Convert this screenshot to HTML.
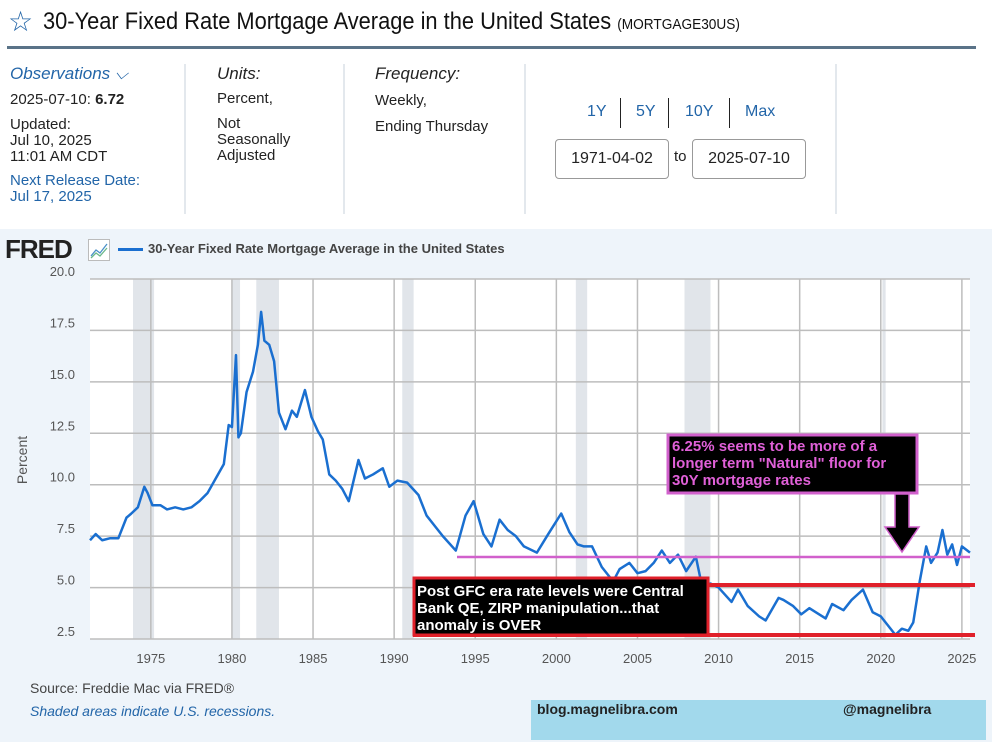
<!DOCTYPE html>
<html><head><meta charset="utf-8"><style>
body{margin:0;width:994px;height:742px;background:#fff;font-family:"Liberation Sans Narrow","Liberation Sans",sans-serif;position:relative;overflow:hidden;color:#222}
.a{position:absolute;white-space:nowrap}
.blue{color:#2265a8}
.vl{position:absolute;width:2px;background:#e3e8ed;top:64px;height:150px}
.box{position:absolute;border:1px solid #999;border-radius:4px;height:38px;top:139px;font-size:16px;line-height:38px;text-align:center;width:112px}
</style></head><body>
<div class="a blue" style="left:8px;top:6px;font-size:28px;line-height:32px">☆</div>
<div class="a" style="left:43px;top:8px;font-size:24px;color:#111;transform:scaleX(0.91);transform-origin:0 0">30-Year Fixed Rate Mortgage Average in the United States <span style="font-size:15px">(MORTGAGE30US)</span></div>
<div class="a" style="left:7px;top:46px;width:969px;height:3px;background:#5a7388"></div>
<div class="a blue" style="left:10px;top:64px;font-size:17px;font-style:italic">Observations ⌵</div>
<div class="a" style="left:10px;top:91px;font-size:15px">2025-07-10: <b>6.72</b></div>
<div class="a" style="left:10px;top:117px;font-size:15px;line-height:16px">Updated:<br>Jul 10, 2025<br>11:01 AM CDT</div>
<div class="a blue" style="left:10px;top:173px;font-size:15px;line-height:16px">Next Release Date:<br>Jul 17, 2025</div>
<div class="vl" style="left:184px"></div>
<div class="a" style="left:217px;top:64px;font-size:17px;font-style:italic">Units:</div>
<div class="a" style="left:217px;top:90px;font-size:15px">Percent,</div>
<div class="a" style="left:217px;top:116px;font-size:15px;line-height:16px">Not<br>Seasonally<br>Adjusted</div>
<div class="vl" style="left:343px"></div>
<div class="a" style="left:375px;top:64px;font-size:17px;font-style:italic">Frequency:</div>
<div class="a" style="left:375px;top:88px;font-size:15px;line-height:26px">Weekly,<br>Ending Thursday</div>
<div class="vl" style="left:524px"></div>
<div class="a blue" style="left:587px;top:103px;font-size:16px">1Y</div>
<div class="a" style="left:620px;top:98px;width:1px;height:30px;background:#222"></div>
<div class="a blue" style="left:636px;top:103px;font-size:16px">5Y</div>
<div class="a" style="left:668px;top:98px;width:1px;height:30px;background:#222"></div>
<div class="a blue" style="left:685px;top:103px;font-size:16px">10Y</div>
<div class="a" style="left:729px;top:98px;width:1px;height:30px;background:#222"></div>
<div class="a blue" style="left:745px;top:103px;font-size:16px">Max</div>
<div class="box" style="left:555px">1971-04-02</div>
<div class="a" style="left:674px;top:148px;font-size:15px">to</div>
<div class="box" style="left:692px">2025-07-10</div>
<div class="vl" style="left:835px"></div>

<div class="a" style="left:0;top:229px;width:992px;height:513px;background:#eef4fa"></div>
<div class="a" style="left:5px;top:234px;font-family:'Liberation Sans',sans-serif;font-weight:bold;font-size:26px;letter-spacing:-1px;color:#222">FRED</div>
<svg class="a" style="left:88px;top:239px" width="22" height="22"><rect x="0.5" y="0.5" width="21" height="21" fill="#fff" stroke="#bbb"/><polyline points="3,17 8,11 12,14 19,5" fill="none" stroke="#4a90c8" stroke-width="1.3"/><polyline points="3,19 8,14 12,17 19,9" fill="none" stroke="#6bb88a" stroke-width="1.3"/></svg>
<div class="a" style="left:118px;top:248px;width:25px;height:3px;background:#1a6fd0"></div>
<div class="a" style="left:148px;top:241px;font-family:'Liberation Sans',sans-serif;font-weight:bold;font-size:13px;color:#444">30-Year Fixed Rate Mortgage Average in the United States</div>

<svg id="chart" class="a" style="left:0;top:0" width="994" height="742"></svg>

<div class="a" style="left:30px;top:680px;font-family:'Liberation Sans',sans-serif;font-size:14px;color:#444">Source: Freddie Mac via FRED®</div>
<div class="a blue" style="left:30px;top:703px;font-family:'Liberation Sans',sans-serif;font-size:14px;font-style:italic">Shaded areas indicate U.S. recessions.</div>
<div class="a" style="left:531px;top:700px;width:455px;height:40px;background:#a2d9ec"></div>
<div class="a" style="left:537px;top:701px;font-family:'Liberation Sans',sans-serif;font-weight:bold;font-size:14px">blog.magnelibra.com</div>
<div class="a" style="left:843px;top:701px;font-family:'Liberation Sans',sans-serif;font-weight:bold;font-size:14px">@magnelibra</div>

<script>
const yTicks=[2.5,5.0,7.5,10.0,12.5,15.0,17.5,20.0];
const xTicks=[1975,1980,1985,1990,1995,2000,2005,2010,2015,2020,2025];
const recessions=[[1973.9,1975.2],[1980.0,1980.5],[1981.5,1982.9],[1990.5,1991.2],[2001.2,2001.9],[2007.9,2009.5],[2020.1,2020.3]];
const dates=[1971.25,1971.6,1972,1972.5,1973,1973.5,1973.8,1974.2,1974.6,1974.8,1975.1,1975.6,1976,1976.5,1977,1977.5,1978,1978.5,1979,1979.5,1979.8,1980.0,1980.25,1980.4,1980.55,1980.9,1981.3,1981.6,1981.8,1982.0,1982.3,1982.6,1982.9,1983.3,1983.7,1984.0,1984.5,1984.9,1985.3,1985.6,1986.0,1986.4,1986.8,1987.2,1987.8,1988.2,1988.7,1989.3,1989.7,1990.2,1990.8,1991.5,1992.0,1992.5,1993.0,1993.8,1994.4,1994.9,1995.5,1996.0,1996.5,1997.0,1997.5,1998.0,1998.8,1999.5,2000.3,2000.8,2001.3,2001.7,2002.2,2002.8,2003.5,2003.9,2004.5,2005.0,2005.5,2006.0,2006.5,2007.0,2007.5,2008.0,2008.6,2009.0,2009.5,2010.0,2010.8,2011.2,2011.8,2012.5,2012.9,2013.7,2014.0,2014.6,2015.1,2015.6,2016.0,2016.6,2017.0,2017.7,2018.2,2018.9,2019.5,2020.0,2020.5,2020.9,2021.3,2021.7,2022.0,2022.4,2022.8,2023.1,2023.5,2023.8,2024.1,2024.4,2024.7,2025.0,2025.5];
const rates=[7.3,7.6,7.3,7.4,7.4,8.4,8.6,8.9,9.9,9.6,9.0,9.0,8.8,8.9,8.8,8.9,9.2,9.6,10.3,11.0,12.9,12.8,16.3,12.3,12.5,14.5,15.5,16.8,18.4,17.0,16.8,16.0,13.5,12.7,13.6,13.3,14.6,13.3,12.6,12.2,10.5,10.2,9.8,9.2,11.2,10.3,10.5,10.8,9.9,10.2,10.1,9.5,8.5,8.0,7.5,6.8,8.5,9.2,7.6,7.0,8.3,7.8,7.5,7.0,6.7,7.6,8.6,7.7,7.1,7.0,7.0,6.0,5.3,5.9,6.2,5.7,5.8,6.2,6.8,6.2,6.6,5.8,6.5,5.0,5.2,5.0,4.3,4.9,4.1,3.6,3.4,4.5,4.4,4.1,3.7,4.0,3.8,3.5,4.2,3.9,4.4,4.9,3.8,3.6,3.1,2.7,3.0,2.9,3.3,5.3,7.0,6.2,6.7,7.8,6.6,7.1,6.1,7.0,6.7];
const svg=document.getElementById('chart');const NS='http://www.w3.org/2000/svg';
const L=90,R=970,T=279,B=639,X0=1971.25,X1=2025.5;
const x=v=>L+(v-X0)/(X1-X0)*(R-L);
const y=v=>B-(v-2.5)/(20-2.5)*(B-T);
function mk(t,a){const e=document.createElementNS(NS,t);for(const k in a)e.setAttribute(k,a[k]);svg.appendChild(e);return e;}
let e=mk('rect',{x:L,y:T,width:R-L,height:B-T,fill:'#fff'});


recessions.forEach(r=>{const el=mk('rect',{x:x(r[0]),y:T,width:Math.max(2,x(r[1])-x(r[0])),height:B-T,fill:'#e1e5ea'});

});
yTicks.forEach(t=>{const g=mk('line',{x1:L,x2:R,y1:y(t),y2:y(t),stroke:'#bdbdbd','stroke-width':1.5});


const tx=mk('text',{x:75,y:y(t)-3,'text-anchor':'end','font-size':13,fill:'#555','font-family':'Liberation Sans,sans-serif'});tx.textContent=t.toFixed(1);

});
xTicks.forEach(t=>{const g=mk('line',{x1:x(t),x2:x(t),y1:T,y2:B,stroke:'#bdbdbd','stroke-width':1.5});


const tx=mk('text',{x:x(t),y:663,'text-anchor':'middle','font-size':13,fill:'#555','font-family':'Liberation Sans,sans-serif'});tx.textContent=t;

});
const yt=mk('text',{x:0,y:0,transform:'translate(27,460) rotate(-90)','text-anchor':'middle','font-size':14,fill:'#555','font-family':'Liberation Sans,sans-serif'});yt.textContent='Percent';


const ln=mk('polyline',{points:dates.map((d,i)=>x(d)+','+y(rates[i])).join(' '),fill:'none',stroke:'#1a6fd0','stroke-width':2.5,'stroke-linejoin':'round'});


const an=[['line',{x1:457,x2:970,y1:557,y2:557,stroke:'#d160cc','stroke-width':2.5},'natural-floor-line'],
['line',{x1:708,x2:975,y1:585,y2:585,stroke:'#e0202a','stroke-width':4},'red-line-upper'],
['line',{x1:413,x2:975,y1:635,y2:635,stroke:'#e0202a','stroke-width':4},'red-line-lower'],
['rect',{x:414,y:578,width:294,height:57,fill:'#000',stroke:'#e0202a','stroke-width':3},'qe-annotation-box'],
['rect',{x:668,y:435,width:249,height:58,fill:'#000',stroke:'#d160cc','stroke-width':3},'floor-annotation-box'],
['polygon',{points:'895,494 909,494 909,527 919,527 902,552 885,527 895,527',fill:'#000',stroke:'#d160cc','stroke-width':1.5},'floor-arrow']];
an.forEach(a=>{const el=mk(a[0],a[1]);

});
function txt(lines,x0,y0,col,name){lines.forEach((s,i)=>{const t=mk('text',{x:x0,y:y0+i*17,'font-size':15,'font-weight':'bold',fill:col,'font-family':'Liberation Sans Narrow,Liberation Sans,sans-serif','textLength':0});t.removeAttribute('textLength');t.textContent=s;

});}
txt(['6.25% seems to be more of a','longer term "Natural" floor for','30Y mortgage rates'],672,451,'#e060d8','floor-annotation-text');
txt(['Post GFC era rate levels were Central','Bank QE, ZIRP manipulation...that','anomaly is OVER'],417,596,'#fff','qe-annotation-text');
</script>
</body></html>
